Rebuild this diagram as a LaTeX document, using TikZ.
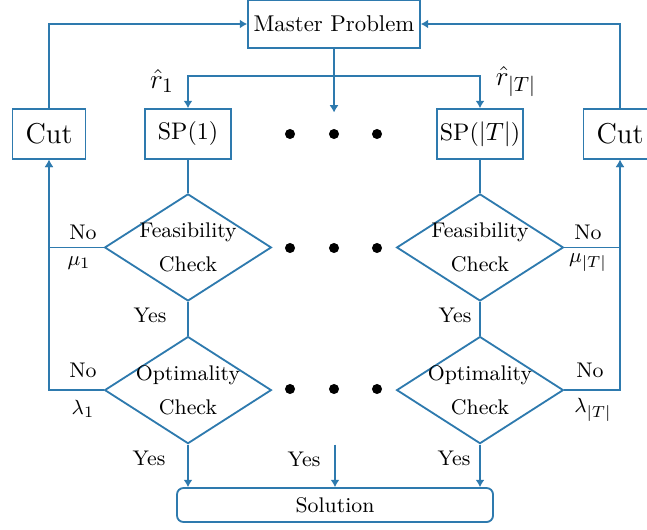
\documentclass[tikz,border=0pt]{standalone}
\usepackage{amsmath}
\usepackage{xcolor}
\usetikzlibrary{positioning, arrows.meta, calc, shapes.geometric}
\definecolor{flowblue}{RGB}{46,122,174}

\begin{document}
\begin{tikzpicture}[
        x=0.1541mm, y=-0.1541mm,
        font=\fontsize{9.3}{11.2}\selectfont,
        box/.style    ={draw=flowblue, line width=0.8pt, align=center,
                        inner sep=0pt, fill=white},
        master/.style ={box, minimum width=26.5mm, minimum height=7.4mm,
                        font=\fontsize{10}{12}\selectfont},
        sub/.style    ={box, minimum width=13.25mm, minimum height=7.7mm,
                        font=\fontsize{10.5}{12.6}\selectfont},
        cutbox/.style ={box, minimum width=11.25mm, minimum height=7.7mm,
                        font=\fontsize{12.6}{15}\selectfont},
        check/.style  ={box, diamond, shape aspect=1.56, minimum width=25.7mm,
                        minimum height=16.5mm, inner sep=-1.5pt},
        sol/.style    ={box, rounded corners=1mm, minimum width=48.7mm,
                        minimum height=5.24mm},
        dot/.style    ={circle, fill=black, minimum size=1.55mm, inner sep=0pt},
        arr/.style    ={-{Latex[length=3.2pt, width=4pt]}, line width=0.8pt,
                        draw=flowblue},
        conn/.style   ={line width=0.8pt, draw=flowblue},
        lbl/.style    ={inner sep=0pt},
        rlbl/.style   ={inner sep=0pt, font=\fontsize{12.5}{14}\selectfont}
    ]
      \useasboundingbox (0,0) rectangle (647,529);

      % ===== TOP ROW =====
      \node[master]                     (mp)    at (334,24)  {Master Problem};
      \node[sub]                        (sp1)   at (188,134) {SP(1)};
      \node[sub]                        (spT)   at (480,134) {SP($|T|$)};
      \node[cutbox]                     (cutL)  at (49,134)  {Cut};
      \node[cutbox]                     (cutR)  at (620,134) {Cut};
      \coordinate[below=4.2mm of mp]    (split);
      \coordinate[below=5.6mm of split] (midend);
      \node[rlbl]                       (r1)    at (162,81)  {$\hat{r}_1$};
      \node[rlbl]                       (rT)    at (516,82)  {$\hat{r}_{|T|}$};

      % ===== CHECKS =====
      \node[check, below=5.1mm of sp1]   (feas1) {Feasibility\\[4pt]Check};
      \node[check, below=5.2mm of feas1] (opt1)  {Optimality\\[4pt]Check};
      \node[check, below=5.1mm of spT]   (feasT) {Feasibility\\[4pt]Check};
      \node[check, below=5.2mm of feasT] (optT)  {Optimality\\[4pt]Check};
      \node[sol]                         (sol) at (335,505) {Solution};
      \coordinate (midyes) at (sol.north |- opt1.south);

      % dots between the columns
      \node[dot] (d11) at (290,134) {};
      \node[dot] (d12) at (334,134) {};
      \node[dot] (d13) at (377,134) {};
      \node[dot] (d21) at (290,248) {};
      \node[dot] (d22) at (334,248) {};
      \node[dot] (d23) at (377,248) {};
      \node[dot] (d31) at (290,389) {};
      \node[dot] (d32) at (334,389) {};
      \node[dot] (d33) at (377,389) {};

      % master splits to the subproblems
      \draw[conn] (mp.south) -- (split);
      \draw[arr]  (split) -| (sp1.north);
      \draw[arr]  (split) -| (spT.north);
      \draw[arr]  (split) -- (midend);
      % cuts go back to the master
      \draw[arr]  (cutL.north) |- (mp.west);
      \draw[arr]  (cutR.north) |- (mp.east);
      % columns
      \draw[conn] (sp1)   -- (feas1);
      \draw[conn] (feas1) -- (opt1);
      \draw[conn] (spT)   -- (feasT);
      \draw[conn] (feasT) -- (optT);
      % No branches
      \draw[arr]  (feas1.west) -| (cutL.south);
      \draw[arr]  (opt1.west)  -| (cutL.south);
      \draw[arr]  (feasT.east) -| (cutR.south);
      \draw[arr]  (optT.east)  -| (cutR.south);
      % Yes branches
      \draw[arr]  (opt1.south) -- (opt1.south |- sol.north);
      \draw[arr]  (optT.south) -- (optT.south |- sol.north);
      \draw[arr]  (midyes)     -- (midyes |- sol.north);

      \node[lbl] (no1)  at (83,232)  {No};
      \node[lbl] (mu1)  at (79,263)  {$\mu_1$};
      \node[lbl] (no2)  at (83,370)  {No};
      \node[lbl] (lam1) at (83,409)  {$\lambda_1$};
      \node[lbl] (no3)  at (588,232) {No};
      \node[lbl] (muT)  at (588,263) {$\mu_{|T|}$};
      \node[lbl] (no4)  at (590,370) {No};
      \node[lbl] (lamT) at (593,410) {$\lambda_{|T|}$};
      \node[lbl] (yes1) at (150,315) {Yes};
      \node[lbl] (yes2) at (455,315) {Yes};
      \node[lbl] (yes3) at (149,458) {Yes};
      \node[lbl] (yes4) at (304,459) {Yes};
      \node[lbl] (yes5) at (454,458) {Yes};
    \end{tikzpicture}
\end{document}
